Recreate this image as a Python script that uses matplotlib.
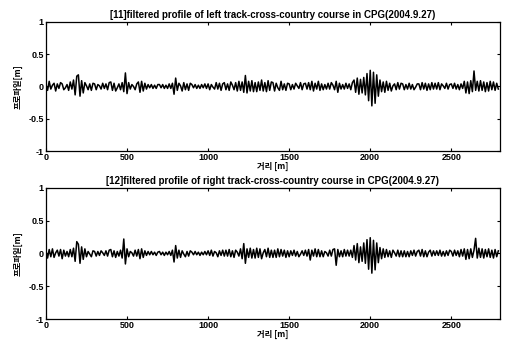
import matplotlib
matplotlib.use("Agg")
import matplotlib.pyplot as plt
import numpy as np

STEP_M = 10  # sample spacing along the course, metres

# filtered profile, left track [m], one value every 10 m
left_profile = [
    0.03, -0.06, 0.08, -0.04, 0.02, 0.05, -0.07, 0.04, -0.03, 0.06,
    0.04, -0.05, -0.02, 0.03, -0.06, 0.07, -0.04, 0.10, -0.13, 0.16,
    0.18, -0.15, 0.09, -0.10, 0.06, 0.01, -0.05, 0.04, -0.06, 0.05,
    0.04, -0.05, 0.03, 0.01, -0.04, 0.05, -0.03, 0.04, -0.05, 0.06,
    0.07, -0.06, 0.05, -0.07, -0.02, 0.04, -0.05, 0.06, -0.08, 0.21,
    -0.11, 0.06, -0.04, 0.03, 0.00, -0.05, 0.04, 0.07, -0.09, 0.08,
    -0.07, 0.05, -0.04, 0.03, -0.02, 0.03, -0.03, 0.02, -0.03, 0.03,
    0.03, -0.02, 0.03, -0.03, 0.02, -0.03, 0.04, -0.03, 0.05, -0.12,
    0.13, -0.06, 0.05, 0.01, -0.07, 0.06, -0.05, 0.04, -0.06, 0.05,
    0.03, -0.02, 0.03, -0.03, 0.02, -0.03, 0.03, -0.02, 0.04, -0.03,
    0.04, -0.05, 0.03, -0.01, -0.04, 0.06, -0.04, 0.05, -0.06, 0.04,
    0.06, -0.05, 0.04, -0.06, 0.07, 0.02, -0.05, 0.06, -0.07, 0.08,
    -0.06, 0.07, -0.09, 0.17, -0.10, 0.08, -0.07, 0.09, -0.08, 0.06,
    -0.08, 0.07, -0.06, 0.10, -0.07, 0.06, -0.08, 0.09, -0.06, 0.07,
    0.06, -0.07, 0.05, -0.02, -0.06, 0.08, -0.05, 0.04, -0.06, 0.05,
    0.04, -0.05, 0.03, -0.04, 0.05, 0.01, -0.03, 0.06, -0.05, 0.04,
    0.05, -0.04, 0.06, -0.05, 0.08, -0.07, 0.05, -0.04, 0.08, -0.06,
    0.04, -0.05, 0.03, -0.04, 0.05, -0.04, 0.06, 0.02, -0.05, 0.08,
    -0.09, 0.05, -0.04, 0.03, -0.04, 0.05, -0.03, 0.04, -0.05, 0.06,
    0.10, -0.09, 0.13, -0.12, 0.11, -0.10, 0.14, -0.13, 0.20, -0.22,
    0.25, -0.30, 0.22, -0.26, 0.18, -0.15, 0.10, -0.08, 0.07, -0.09,
    0.08, -0.06, 0.05, -0.07, 0.01, 0.04, -0.05, 0.06, -0.04, 0.05,
    0.04, -0.05, 0.03, -0.04, 0.05, -0.04, 0.03, -0.05, -0.01, 0.04,
    0.04, -0.05, 0.06, -0.04, 0.05, -0.06, 0.04, -0.05, 0.06, -0.04,
    0.05, -0.04, 0.06, -0.05, 0.04, 0.01, -0.03, 0.05, -0.04, 0.03,
    0.04, -0.03, 0.05, -0.04, 0.03, -0.05, 0.04, -0.03, 0.08, -0.10,
    0.07, -0.11, 0.09, -0.08, 0.24, -0.06, 0.08, -0.07, 0.09, -0.06,
    0.07, -0.08, 0.06, -0.07, 0.08, -0.05, 0.07, -0.06, 0.05, -0.04,
]

# filtered profile, right track [m]
right_profile = [
    0.04, -0.07, 0.06, -0.05, 0.07, -0.06, 0.01, 0.05, -0.04, 0.06,
    -0.08, 0.05, -0.04, 0.03, -0.05, 0.06, -0.05, 0.08, -0.12, 0.18,
    0.14, -0.15, 0.10, -0.09, 0.07, -0.05, 0.03, -0.01, -0.05, 0.04,
    0.03, -0.04, 0.03, -0.03, 0.04, 0.01, -0.03, 0.04, -0.04, 0.05,
    0.06, -0.05, 0.04, -0.06, 0.03, -0.04, 0.05, -0.07, 0.22, -0.16,
    0.07, -0.05, 0.03, 0.01, -0.04, 0.05, -0.04, 0.06, -0.08, 0.07,
    -0.06, 0.04, -0.03, 0.03, -0.02, 0.03, -0.02, 0.02, -0.03, 0.02,
    0.03, -0.02, 0.02, -0.03, 0.02, -0.02, 0.03, -0.03, 0.05, -0.13,
    0.12, -0.07, 0.05, -0.06, 0.04, -0.01, -0.05, 0.03, -0.04, 0.04,
    0.02, -0.02, 0.03, -0.02, 0.02, -0.03, 0.02, -0.02, 0.03, -0.02,
    0.04, -0.03, 0.05, -0.04, 0.03, 0.01, -0.05, 0.04, -0.03, 0.05,
    -0.04, 0.05, -0.04, 0.06, -0.05, 0.04, -0.06, 0.05, 0.02, -0.04,
    0.07, -0.08, 0.15, -0.15, 0.07, -0.06, 0.08, -0.07, 0.06, -0.07,
    0.08, -0.06, 0.07, -0.08, 0.01, 0.06, -0.05, 0.08, -0.06, 0.05,
    -0.06, 0.05, -0.06, 0.07, -0.05, 0.06, -0.04, 0.05, -0.06, 0.04,
    -0.05, 0.04, -0.03, 0.05, -0.04, 0.03, -0.05, -0.01, 0.04, -0.03,
    0.05, -0.04, 0.06, -0.10, 0.05, -0.04, 0.07, -0.05, 0.06, -0.05,
    0.04, -0.05, 0.03, 0.01, -0.04, 0.05, -0.04, 0.06, 0.07, -0.18,
    0.06, -0.05, 0.04, -0.05, 0.06, -0.04, 0.05, -0.04, 0.05, -0.06,
    0.12, -0.10, 0.15, -0.14, 0.10, -0.12, 0.16, -0.15, 0.21, -0.24,
    0.24, -0.30, 0.20, -0.25, 0.16, -0.14, 0.09, -0.08, 0.07, -0.06,
    0.06, -0.05, 0.04, -0.06, 0.05, 0.01, -0.04, 0.05, -0.05, 0.04,
    -0.05, 0.04, -0.05, 0.03, -0.05, 0.04, -0.03, 0.05, -0.04, 0.03,
    0.05, -0.04, 0.06, -0.05, 0.04, -0.05, 0.02, 0.05, -0.04, 0.04,
    -0.03, 0.04, -0.03, 0.05, -0.04, 0.03, -0.04, 0.04, -0.03, 0.05,
    0.03, -0.04, 0.05, -0.03, 0.04, -0.05, 0.06, -0.04, 0.07, -0.09,
    0.06, -0.08, 0.07, -0.06, 0.05, 0.23, -0.07, 0.08, -0.06, 0.07,
    -0.07, 0.06, -0.05, 0.07, -0.06, 0.05, -0.07, 0.06, -0.05, 0.04,
]

titles = [
    "[11]filtered profile of left track-cross-country course in CPG(2004.9.27)",
    "[12]filtered profile of right track-cross-country course in CPG(2004.9.27)",
]
x_ticks = [0, 500, 1000, 1500, 2000, 2500]
y_ticks = [-1, -0.5, 0, 0.5, 1]
y_tick_labels = ["-1", "-0.5", "0", "0.5", "1"]

KR = ["Noto Sans CJK KR", "DejaVu Sans"]
LAT = ["Liberation Sans", "DejaVu Sans"]

fig = plt.figure(figsize=(5.05, 3.53), dpi=100)
fig.patch.set_facecolor("white")

boxes = [[0.091, 0.572, 0.899, 0.366], [0.091, 0.096, 0.899, 0.372]]

for box, title, prof in zip(boxes, titles, [left_profile, right_profile]):
    ax = fig.add_axes(box)
    dist = np.arange(len(prof)) * STEP_M
    ax.plot(dist, prof, color="black", linewidth=1.1)
    ax.set_xlim(0, 2800)
    ax.set_ylim(-1, 1)
    ax.set_xticks(x_ticks)
    ax.set_xticklabels([str(t) for t in x_ticks], fontfamily=LAT,
                       fontsize=6.5, fontweight="bold")
    ax.set_yticks(y_ticks)
    ax.set_yticklabels(y_tick_labels, fontfamily=LAT, fontsize=6.5,
                       fontweight="bold")
    ax.tick_params(direction="in", length=2.5, width=0.8, top=True,
                   right=True, pad=1.5)
    for sp in ax.spines.values():
        sp.set_linewidth(0.9)
    ax.set_title(title, fontfamily=LAT, fontsize=7, fontweight="bold",
                 pad=3)
    ax.set_xlabel("거리 [m]", fontfamily=KR, fontsize=6, fontweight="bold",
                  labelpad=0)
    ax.set_ylabel("프로파일[m]", fontfamily=KR, fontsize=6,
                  fontweight="bold", labelpad=4)

fig.savefig("out.png", dpi=100)
